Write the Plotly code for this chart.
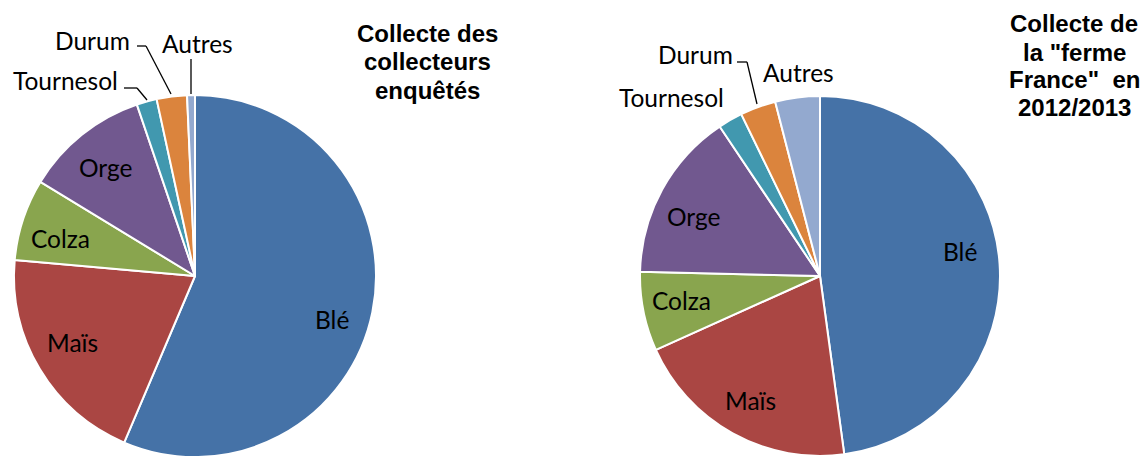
import plotly.graph_objects as go

# ---------------- data ----------------
categories = ["Blé", "Maïs", "Colza", "Orge", "Tournesol", "Durum", "Autres"]
collecte_collecteurs_enquetes = [56.4, 20.0, 7.3, 11.1, 1.8, 2.7, 0.7]
collecte_ferme_france_2012_2013 = [47.8, 20.4, 7.1, 15.2, 2.2, 3.2, 4.0]
title_left_lines = ["Collecte des", "collecteurs", "enquêtés"]
title_right_lines = ["Collecte de", "la \"ferme", "France\"&nbsp; en", "2012/2013"]

# ---------------- style ----------------
PAGE_OFFSET = 0                     # body margin removed by post_script
W, H = 1141, 457
colors = ["#4572A7", "#AA4643", "#89A54E", "#71588F", "#4198AF", "#DB843D", "#93A9CF"]
LABEL_FONT = dict(family="Lato, Carlito, Calibri, sans-serif", size=24.5, color="#000000")
TITLE_FONT = dict(family="Liberation Sans, Arial, sans-serif", size=24, color="#000000")

# pie geometry in window pixels: (center x, center y from top, radius)
left_geom = (195, 276, 181)
right_geom = (820, 276, 180)

# label centre positions in window pixels (x, y from top), per category
left_label_px = [(332, 319), (72, 342), (60, 238), (105, 167), (65, 80), (92, 41), (197, 44)]
right_label_px = [(960, 251), (750, 400), (681, 300), (693, 216), (671, 97), (695, 54), (798, 72)]

# leader lines (window-pixel polylines)
left_leaders = [
    [(124, 88), (137, 88), (147, 100)],     # Tournesol
    [(137, 46), (146, 46), (171, 94)],      # Durum
    [(191, 59), (191, 94)],                 # Autres
]
right_leaders = [
    [(737, 62), (747, 62), (757, 104)],     # Durum
]

left_title_px = (427, [34, 62, 90])
right_title_px = (1074, [24, 52, 79, 107])


def px2paper(x, y):
    return (x - PAGE_OFFSET) / W, 1 - (y - PAGE_OFFSET) / H


def domain_of(geom):
    cx, cy, r = geom
    x0, y1 = px2paper(cx - r, cy - r)
    x1, y0 = px2paper(cx + r, cy + r)
    return dict(x=[max(0, x0), min(1, x1)], y=[max(0, y0), min(1, y1)])


fig = go.Figure()
for vals, geom in [(collecte_collecteurs_enquetes, left_geom),
                   (collecte_ferme_france_2012_2013, right_geom)]:
    fig.add_trace(go.Pie(
        labels=categories,
        values=vals,
        sort=False,
        direction="clockwise",
        rotation=0,
        textinfo="none",
        hoverinfo="label+percent",
        marker=dict(colors=colors, line=dict(color="#FFFFFF", width=2)),
        domain=domain_of(geom),
        showlegend=False,
    ))

annotations = []
for labels_px in (left_label_px, right_label_px):
    for name, (x, y) in zip(categories, labels_px):
        px, py = px2paper(x, y)
        annotations.append(dict(x=px, y=py, xref="paper", yref="paper", text=name,
                                showarrow=False, xanchor="center", yanchor="middle",
                                font=LABEL_FONT))

for lines, (tx, tys) in ((title_left_lines, left_title_px), (title_right_lines, right_title_px)):
    for line, ty in zip(lines, tys):
        px, py = px2paper(tx, ty)
        annotations.append(dict(x=px, y=py, xref="paper", yref="paper", text="<b>" + line + "</b>",
                                showarrow=False, xanchor="center", yanchor="middle",
                                font=TITLE_FONT))

shapes = []
for poly in left_leaders + right_leaders:
    for (xa, ya), (xb, yb) in zip(poly[:-1], poly[1:]):
        pa, qa = px2paper(xa, ya)
        pb, qb = px2paper(xb, yb)
        shapes.append(dict(type="line", xref="paper", yref="paper", x0=pa, y0=qa, x1=pb, y1=qb,
                           line=dict(color="#000000", width=1.3)))

fig.update_layout(
    width=W, height=H,
    margin=dict(l=0, r=0, t=0, b=0),
    paper_bgcolor="#FFFFFF",
    plot_bgcolor="#FFFFFF",
    annotations=annotations,
    shapes=shapes,
)

fig.write_html(
    "out.html",
    config={"displayModeBar": False},
    post_script=("document.body.style.margin='0';"
                 "document.body.style.overflow='hidden';"
                 "document.documentElement.style.overflow='hidden';"),
)
